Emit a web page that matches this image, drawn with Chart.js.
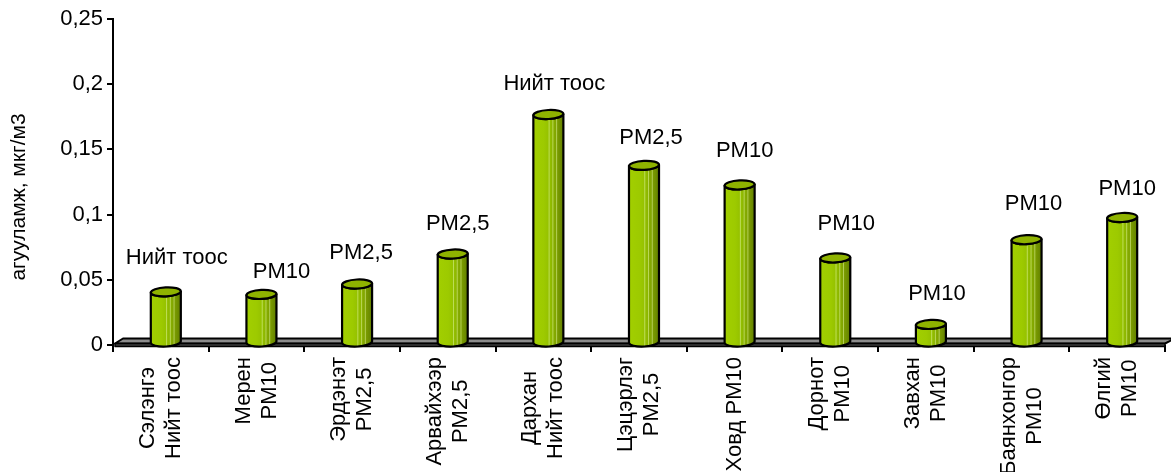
<!DOCTYPE html>
<html>
<head>
<meta charset="utf-8">
<script src="https://cdn.jsdelivr.net/npm/chart.js@4.4.1/dist/chart.umd.min.js"></script>
<style>
  html, body { margin: 0; padding: 0; background: #ffffff; }
  #wrap { width: 1171px; height: 472px; }
</style>
</head>
<body>
<div id="wrap"><canvas id="chart" width="1171" height="472"></canvas></div>
<script>
// Stations (two-line labels) and measured concentration
const categories = [
  ['Сэлэнгэ', 'Нийт тоос'],
  ['Мерен', 'PM10'],
  ['Эрдэнэт', 'PM2,5'],
  ['Арвайхээр', 'PM2,5'],
  ['Дархан', 'Нийт тоос'],
  ['Цэцэрлэг', 'PM2,5'],
  ['Ховд PM10'],
  ['Дорнот', 'PM10'],
  ['Завхан', 'PM10'],
  ['Баянхонгор', 'PM10'],
  ['Өлгий', 'PM10']
];
const concentration = [0.040, 0.038, 0.046, 0.069, 0.176, 0.137, 0.122, 0.066, 0.015, 0.080, 0.097];
const pollutant = ['Нийт тоос', 'PM10', 'PM2,5', 'PM2,5', 'Нийт тоос', 'PM2,5', 'PM10', 'PM10', 'PM10', 'PM10', 'PM10'];
const yTickLabels = ['0', '0,05', '0,1', '0,15', '0,2', '0,25'];
const yTitle = 'агууламж, мкг/м3';

const FONT = '"Liberation Sans", Arial, sans-serif';

// Per-label nudges for the pollutant captions above the cylinders
const captionNudge = [[5, -3], [14, 8], [-2, 0], [-1, 1], [0, 0], [1, 4], [-1, -3], [5, -3], [0, 0], [1, -5], [-1, 2]];

function bodyPath(ctx, cx, rx, ry, top, base, tilt) {
  ctx.beginPath();
  ctx.moveTo(cx - rx, top);
  ctx.lineTo(cx - rx, base);
  ctx.ellipse(cx, base, rx, ry, tilt, Math.PI, 0, true);
  ctx.lineTo(cx + rx, top);
  ctx.ellipse(cx, top, rx, ry, tilt, 0, Math.PI, false);
  ctx.closePath();
}

const cylinderPlugin = {
  id: 'cylinders',
  beforeDatasetsDraw(chart) {
    // grey 3D floor under the bars
    const { ctx, chartArea: { left, right, bottom } } = chart;
    ctx.save();
    ctx.lineJoin = 'round';
    ctx.beginPath();
    ctx.moveTo(left + 2, bottom - 1.5);
    ctx.lineTo(left + 10, bottom - 6.5);
    ctx.lineTo(right + 10, bottom - 6.5);
    ctx.lineTo(right, bottom - 1.5);
    ctx.closePath();
    ctx.fillStyle = '#8c8c8c';
    ctx.fill();
    ctx.lineWidth = 2;
    ctx.strokeStyle = '#000';
    ctx.stroke();
    ctx.beginPath();
    ctx.rect(left + 2, bottom - 1.5, right - left - 2, 3);
    ctx.fillStyle = '#3c3c3c';
    ctx.fill();
    ctx.lineWidth = 1.5;
    ctx.stroke();
    ctx.restore();
  },
  afterDatasetsDraw(chart) {
    const { ctx } = chart;
    const meta = chart.getDatasetMeta(0);
    const yScale = chart.scales.y;
    const base = yScale.getPixelForValue(0) - 3;
    const tilt = -0.05;
    meta.data.forEach((el, i) => {
      const cx = el.x + 5;
      const rx = el.width / 2;
      const ry = 4.5;
      const top = el.y - 1;

      ctx.save();
      // body
      bodyPath(ctx, cx, rx, ry, top, base, tilt);
      const g = ctx.createLinearGradient(cx - rx, 0, cx + rx, 0);
      g.addColorStop(0, '#a2cf00');
      g.addColorStop(0.35, '#9dca00');
      g.addColorStop(0.55, '#93bf00');
      g.addColorStop(0.78, '#7d9f00');
      g.addColorStop(1, '#627f00');
      ctx.fillStyle = g;
      ctx.fill();

      // faint vertical highlights
      ctx.save();
      ctx.clip();
      ctx.strokeStyle = 'rgba(225,245,160,0.55)';
      ctx.lineWidth = 1;
      [0.05, 0.3, 0.55].forEach(f => {
        const x = cx + f * rx;
        ctx.beginPath();
        ctx.moveTo(x, top);
        ctx.lineTo(x, base + ry);
        ctx.stroke();
      });
      ctx.restore();

      bodyPath(ctx, cx, rx, ry, top, base, tilt);
      ctx.lineWidth = 2.2;
      ctx.strokeStyle = '#000';
      ctx.stroke();

      // top cap
      ctx.beginPath();
      ctx.ellipse(cx, top, rx, ry, tilt, 0, Math.PI * 2);
      ctx.fillStyle = '#8fb300';
      ctx.fill();
      ctx.stroke();
      ctx.restore();

      // pollutant caption
      const n = captionNudge[i];
      ctx.save();
      ctx.font = '22px ' + FONT;
      ctx.fillStyle = '#000';
      ctx.textAlign = 'center';
      ctx.textBaseline = 'middle';
      ctx.fillText(pollutant[i], cx + 6 + n[0], top - 31 + n[1]);
      ctx.restore();
    });
  },
  afterDraw(chart) {
    const { ctx, chartArea: { left, bottom } } = chart;
    const xScale = chart.scales.x;
    ctx.save();
    // y axis line runs slightly below the floor
    ctx.strokeStyle = '#000';
    ctx.lineWidth = 2;
    ctx.beginPath();
    ctx.moveTo(left, bottom);
    ctx.lineTo(left, bottom + 7);
    ctx.stroke();

    // rotated station labels, lines centred, block top anchored under the axis
    ctx.font = '22px ' + FONT;
    ctx.fillStyle = '#000';
    ctx.textAlign = 'center';
    ctx.textBaseline = 'middle';
    const lineH = 26;
    const topY = bottom + 12;
    categories.forEach((lines, i) => {
      const x = xScale.getPixelForValue(i);
      const w = Math.max(...lines.map(s => ctx.measureText(s).width));
      ctx.save();
      ctx.translate(x, topY + w / 2);
      ctx.rotate(-Math.PI / 2);
      lines.forEach((s, j) => {
        ctx.fillText(s, 0, (j - (lines.length - 1) / 2) * lineH);
      });
      ctx.restore();
    });

    // y axis title
    ctx.font = '21px ' + FONT;
    ctx.save();
    ctx.translate(19, 197);
    ctx.rotate(-Math.PI / 2);
    ctx.fillText(yTitle, 0, 0);
    ctx.restore();
    ctx.restore();
  }
};

new Chart(document.getElementById('chart'), {
  type: 'bar',
  data: {
    labels: categories,
    datasets: [{
      data: concentration,
      backgroundColor: 'rgba(0,0,0,0)',
      borderWidth: 0,
      barPercentage: 0.314,
      categoryPercentage: 1
    }]
  },
  options: {
    responsive: false,
    animation: false,
    layout: { padding: { left: 0, top: 19, right: 6, bottom: 0 } },
    plugins: {
      legend: { display: false },
      tooltip: { enabled: false }
    },
    scales: {
      x: {
        afterFit(scale) { scale.height = 127; },
        ticks: { display: false },
        border: { display: false },
        grid: {
          display: true,
          offset: true,
          drawOnChartArea: false,
          drawTicks: true,
          tickLength: 7,
          color: '#000',
          lineWidth: 2
        }
      },
      y: {
        min: 0,
        max: 0.25,
        afterFit(scale) { scale.width = 113; },
        ticks: {
          stepSize: 0.05,
          padding: 4,
          color: '#000',
          font: { family: FONT, size: 22 },
          callback: (v, i) => yTickLabels[i]
        },
        border: { display: true, color: '#000', width: 2 },
        grid: {
          drawOnChartArea: false,
          drawTicks: true,
          tickLength: 6,
          color: '#000',
          lineWidth: 2
        }
      }
    }
  },
  plugins: [cylinderPlugin]
});
</script>
</body>
</html>
